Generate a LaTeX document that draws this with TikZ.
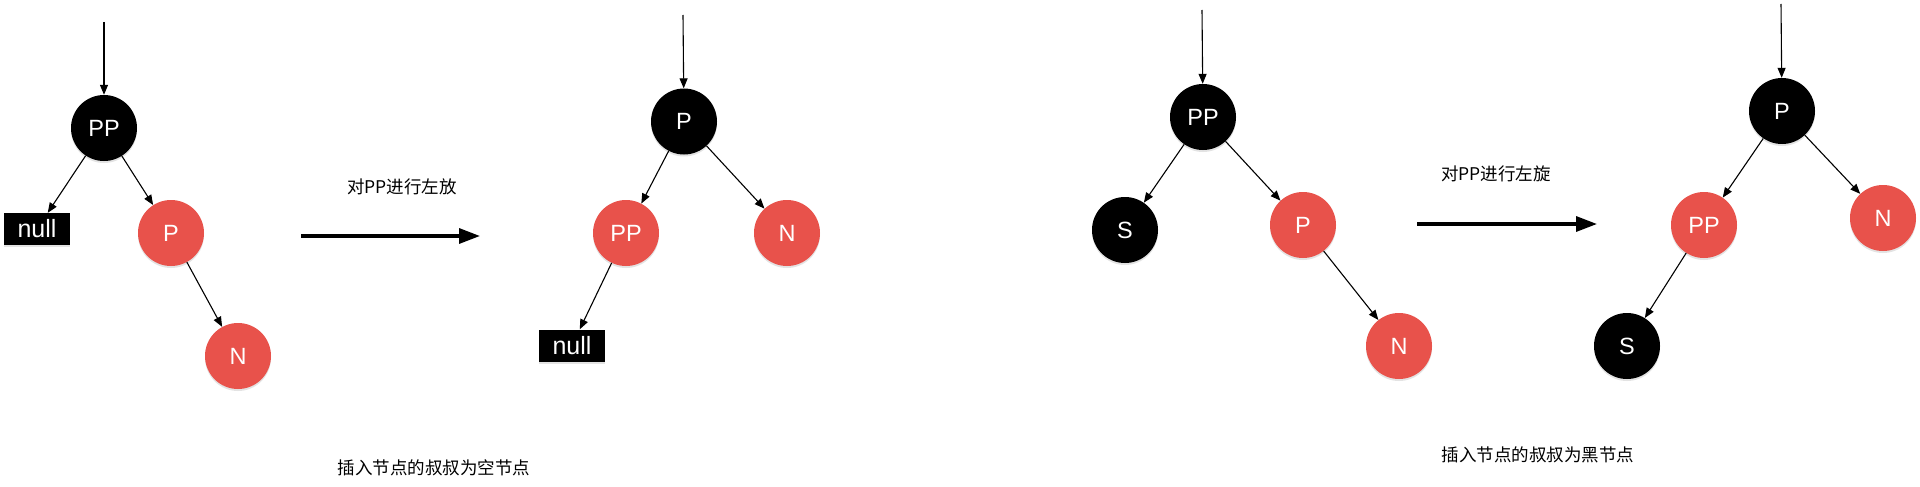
\documentclass[tikz,border=0pt]{standalone}
\usepackage{fontspec}
\setmainfont{Liberation Sans}
\newfontfamily\cjk{Noto Sans CJK SC}
\usetikzlibrary{arrows.meta,shadows}
\definecolor{rbred}{HTML}{E8524B}
\begin{document}
\begin{tikzpicture}[x=1pt,y=-1pt,
  shad/.style={drop shadow={shadow xshift=0pt,shadow yshift=-2pt,opacity=0.22}},
  blk/.style={circle,fill=black,text=white,minimum size=66pt,inner sep=0pt,
    font=\fontsize{23.5}{23.5}\selectfont,shad},
  rdn/.style={circle,fill=rbred,text=white,minimum size=66pt,inner sep=0pt,
    font=\fontsize{23.5}{23.5}\selectfont,shad},
  nullbox/.style={rectangle,fill=black,text=white,minimum width=66pt,
    minimum height=32pt,inner sep=0pt,font=\fontsize{25}{25}\selectfont,shad},
  edge/.style={-{Triangle[length=10pt,width=8pt]},line width=1.1pt},
  bigarrow/.style={-{Triangle[length=21pt,width=15pt]},line width=3.3pt},
  lbl/.style={font=\cjk\fontsize{17.5}{17.5}\selectfont,inner sep=0pt}
]
\fill[white] (0,0) rectangle (1920,487);
\useasboundingbox (0,0) rectangle (1920,487);

% ---- tree 1 ----
\coordinate (t1) at (104,22);
\node[blk] (PPa) at (104,128) {PP};
\node[nullbox] (nulla) at (37,229) {null};
\node[rdn] (Pa) at (171,233) {P};
\node[rdn] (Na) at (238,356) {N};
\draw[edge] (t1) -- (PPa);
\draw[edge] (PPa) -- (nulla);
\draw[edge] (PPa) -- (Pa);
\draw[edge] (Pa) -- (Na);

% ---- arrow 1 ----
\node[lbl] (la) at (402,187) {对PP进行左放};
\coordinate (a1s) at (301,236);
\coordinate (a1e) at (480,236);
\draw[bigarrow] (a1s) -- (a1e);

% ---- tree 2 ----
\coordinate (t2) at (683,15);
\node[blk] (Pb) at (684,121.5) {P};
\node[rdn] (PPb) at (626,233) {PP};
\node[rdn] (Nb) at (787,233) {N};
\node[nullbox] (nullb) at (572,345.5) {null};
\draw[edge] (t2) -- (Pb);
\draw[edge] (Pb) -- (PPb);
\draw[edge] (Pb) -- (Nb);
\draw[edge] (PPb) -- (nullb);

\node[lbl] (ca) at (434,468) {插入节点的叔叔为空节点};

% ---- tree 3 ----
\coordinate (t3) at (1202,10);
\node[blk] (PPc) at (1203,117) {PP};
\node[blk] (Sc) at (1125,230) {S};
\node[rdn] (Pc) at (1303,225) {P};
\node[rdn] (Nc) at (1399,346) {N};
\draw[edge] (t3) -- (PPc);
\draw[edge] (PPc) -- (Sc);
\draw[edge] (PPc) -- (Pc);
\draw[edge] (Pc) -- (Nc);

% ---- arrow 2 ----
\node[lbl] (lb) at (1496,174) {对PP进行左旋};
\coordinate (a2s) at (1417,224);
\coordinate (a2e) at (1597,224);
\draw[bigarrow] (a2s) -- (a2e);

% ---- tree 4 ----
\coordinate (t4) at (1781,4);
\node[blk] (Pd) at (1782,111) {P};
\node[rdn] (PPd) at (1704,225) {PP};
\node[rdn] (Nd) at (1883,218) {N};
\node[blk] (Sd) at (1627,346) {S};
\draw[edge] (t4) -- (Pd);
\draw[edge] (Pd) -- (PPd);
\draw[edge] (Pd) -- (Nd);
\draw[edge] (PPd) -- (Sd);

\node[lbl] (cb) at (1538,455) {插入节点的叔叔为黑节点};
\end{tikzpicture}
\end{document}
